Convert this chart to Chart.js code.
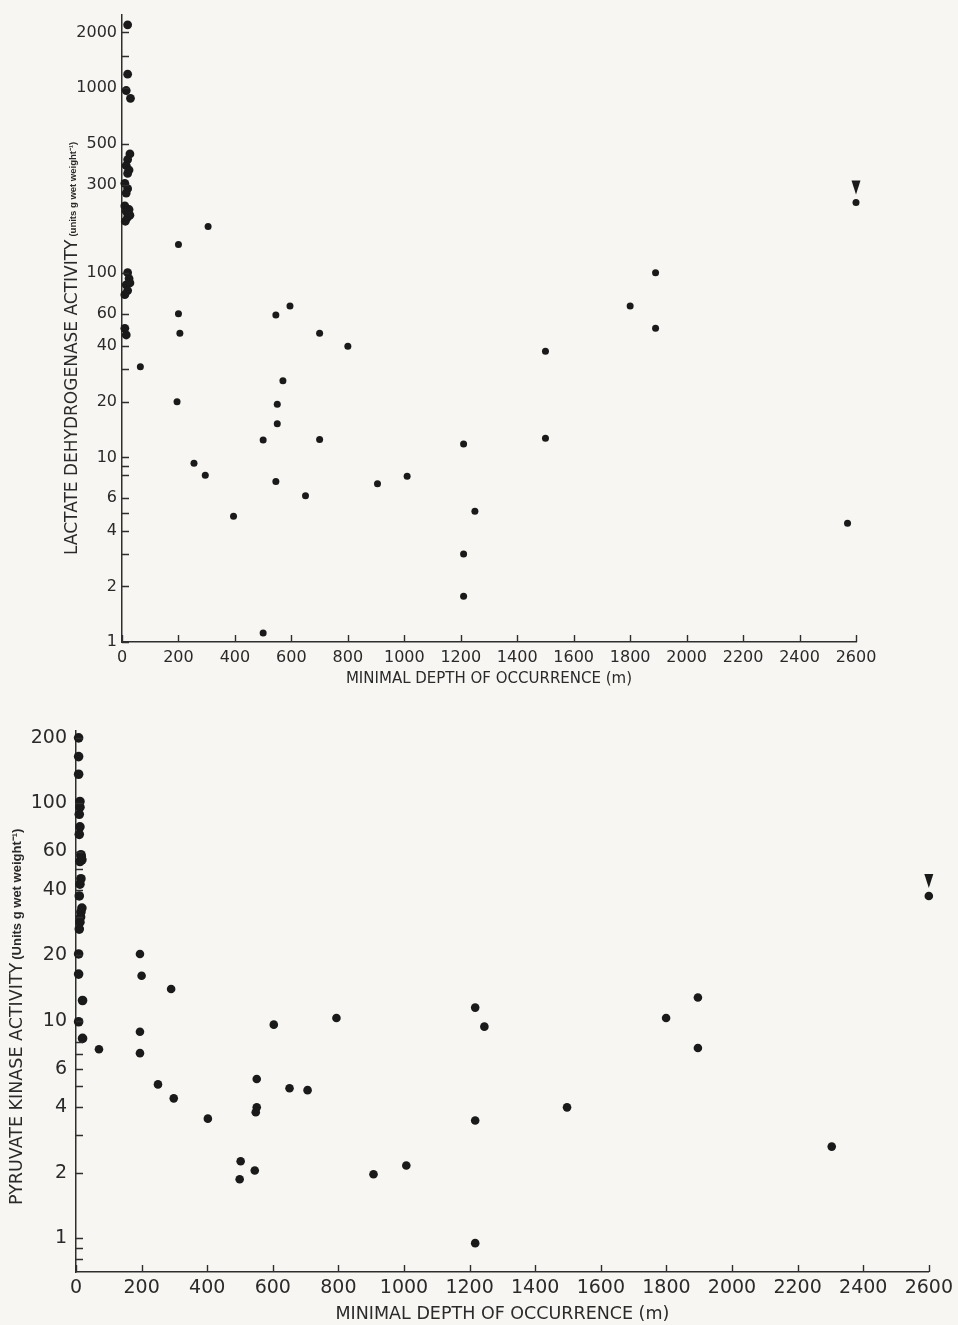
<!DOCTYPE html>
<html>
<head>
<meta charset="utf-8">
<title>Enzyme activity vs minimal depth of occurrence</title>
<script src="https://cdn.jsdelivr.net/npm/chart.js@4.4.1/dist/chart.umd.min.js"></script>
<style>
  html, body { margin: 0; padding: 0; background: #f7f6f3; }
  #wrap { position: relative; width: 958px; height: 1325px; }
  canvas { position: absolute; left: 0; }
  #ldh { top: 0; }
  #pk { top: 700px; }
</style>
</head>
<body>
<div id="wrap">
  <canvas id="ldh" width="958" height="700"></canvas>
  <canvas id="pk" width="958" height="625"></canvas>
</div>
<script>
// Lactate dehydrogenase: minimal depth of occurrence (m) and activity (units g wet weight^-1)
const ldhDepth = [
  20, 20, 15, 30, 28, 20, 15, 25, 20, 10, 20, 15, 10, 25, 15, 20, 28, 12,
  20, 25, 15, 20, 10, 28, 10, 15,
  2600, 305, 200, 1890, 1800, 595, 200, 545, 205, 700, 1890, 800, 1500,
  65, 570, 195, 550, 550, 500, 700, 1500, 1210, 255, 295, 1010, 545,
  905, 650, 1250, 395, 2570, 1210, 1210, 500
];
const ldhActivity = [
  2200, 1190, 970, 880, 440, 410, 380, 360, 345, 305, 285, 270, 230, 220, 215, 200, 205, 190,
  100, 93, 86, 80, 76, 88, 50, 46,
  240, 178, 142, 100, 66, 66, 60, 59, 47, 47, 50, 40, 37.5,
  31, 26, 20, 19.4, 15.2, 12.4, 12.5, 12.7, 11.8, 9.3, 8, 7.9, 7.4,
  7.2, 6.2, 5.1, 4.8, 4.4, 3.0, 1.77, 1.12
];

// Pyruvate kinase: minimal depth of occurrence (m) and activity (units g wet weight^-1)
const pkDepth = [
  8, 8, 8, 12, 12, 10, 12, 10, 15, 18, 12, 15, 12, 10, 18, 15, 12, 10,
  8, 8, 20, 8, 20, 16, 14,
  2600, 195, 200, 290, 1217, 1896, 1799, 794, 603, 1245, 195, 70, 1896,
  195, 551, 250, 651, 706, 298, 1497, 551, 548, 402, 1217, 2304, 502,
  1007, 545, 907, 499, 1217
];
const pkActivity = [
  200, 164, 136, 102, 96, 89, 78, 72, 58, 55, 54, 45, 42.5, 37.5, 33, 31.6, 28.4, 26.4,
  20.3, 16.4, 12.4, 9.9, 8.3, 57, 30,
  37.5, 20.3, 16.1, 14, 11.5, 12.8, 10.3, 10.3, 9.6, 9.4, 8.9, 7.4, 7.5,
  7.1, 5.4, 5.1, 4.9, 4.8, 4.4, 4.0, 4.0, 3.8, 3.55, 3.48, 2.64, 2.26,
  2.16, 2.05, 1.97, 1.87, 0.95
];

// Axis ticks (log y axes carry extra unlabelled marks)
const depthTicks = [0, 200, 400, 600, 800, 1000, 1200, 1400, 1600, 1800, 2000, 2200, 2400, 2600];
const ldhTickMarks = [1, 2, 3, 4, 5, 6, 8, 9, 10, 20, 30, 40, 60, 100, 300, 500, 1000, 1500, 2000];
const ldhTickLabels = [1, 2, 4, 6, 10, 20, 40, 60, 100, 300, 500, 1000, 2000];
const pkTickMarks = [0.8, 0.9, 1, 2, 3, 4, 5, 6, 7, 8, 10, 20, 30, 40, 50, 60, 100, 200];
const pkTickLabels = [1, 2, 4, 6, 10, 20, 40, 60, 100, 200];

const INK = '#1a1a1a';
const AXIS = '#2e2e2e';
const TEXT = '#2a2a2a';

// Tick marks pointing into the plotting area
const inwardTicks = {
  id: 'inwardTicks',
  afterDraw(chart, args, opts) {
    const { ctx, chartArea } = chart;
    const len = opts.length || 7;
    ctx.save();
    ctx.strokeStyle = AXIS;
    ctx.lineWidth = 1.4;
    ctx.beginPath();
    const xs = chart.scales.x, ys = chart.scales.y;
    xs.ticks.forEach(t => {
      const px = Math.round(xs.getPixelForValue(t.value)) + 0.5;
      ctx.moveTo(px, chartArea.bottom);
      ctx.lineTo(px, chartArea.bottom - len);
    });
    ys.ticks.forEach(t => {
      const py = Math.round(ys.getPixelForValue(t.value)) + 0.5;
      ctx.moveTo(chartArea.left, py);
      ctx.lineTo(chartArea.left + len, py);
    });
    ctx.stroke();
    ctx.restore();
  }
};

// Rotated y-axis title with a smaller unit suffix
const yTitle = {
  id: 'yTitle',
  afterDraw(chart, args, o) {
    const { ctx } = chart;
    ctx.save();
    ctx.translate(o.x, o.y);
    ctx.rotate(-Math.PI / 2);
    ctx.fillStyle = TEXT;
    ctx.textBaseline = 'middle';
    ctx.textAlign = 'left';
    ctx.font = o.mainFont;
    ctx.fillText(o.main, 0, 0);
    const w = ctx.measureText(o.main).width;
    ctx.font = o.subFont;
    ctx.fillText(o.sub, w + o.gap, o.subShift);
    ctx.restore();
  }
};

// Downward wedge above the deepest species' point
const wedge = {
  id: 'wedge',
  afterDatasetsDraw(chart, args, o) {
    const pt = chart.getDatasetMeta(0).data[o.index];
    if (!pt) return;
    const { ctx } = chart;
    ctx.save();
    ctx.fillStyle = INK;
    ctx.beginPath();
    ctx.moveTo(pt.x - o.half, pt.y - o.top);
    ctx.lineTo(pt.x + o.half, pt.y - o.top);
    ctx.lineTo(pt.x, pt.y - o.tip);
    ctx.closePath();
    ctx.fill();
    ctx.restore();
  }
};

function buildChart(canvasId, depth, activity, cfg) {
  const points = depth.map((d, i) => ({ x: d, y: activity[i] }));
  // points of shallow-living species sit on the axis and are drawn a little larger
  const radius = c => (c.raw && c.raw.x < 50 ? cfg.axisRadius : cfg.radius);
  return new Chart(document.getElementById(canvasId), {
    type: 'scatter',
    data: {
      datasets: [{
        data: points,
        backgroundColor: INK,
        borderColor: INK,
        borderWidth: 0,
        pointRadius: radius,
        pointHoverRadius: radius,
        clip: false
      }]
    },
    options: {
      responsive: false,
      animation: false,
      devicePixelRatio: 1,
      layout: { padding: cfg.padding },
      plugins: {
        legend: { display: false },
        tooltip: { enabled: false },
        inwardTicks: { length: 7 },
        yTitle: cfg.yTitle,
        wedge: { index: depth.indexOf(2600), half: 4.5, top: 22, tip: 8 }
      },
      scales: {
        x: {
          type: 'linear',
          min: 0, max: 2600,
          afterBuildTicks: s => { s.ticks = depthTicks.map(v => ({ value: v })); },
          afterFit: s => { s.height = cfg.xHeight; },
          grid: { display: false, drawTicks: false },
          border: { display: true, color: AXIS, width: 1.5 },
          ticks: {
            color: TEXT, font: { family: 'DejaVu Sans', size: cfg.xTickSize },
            padding: cfg.xTickPad, maxRotation: 0, autoSkip: false,
            callback: v => String(v)
          },
          title: {
            display: true, text: 'MINIMAL DEPTH OF OCCURRENCE (m)', color: TEXT,
            font: { family: 'DejaVu Sans', size: cfg.xTitleSize },
            padding: { top: cfg.xTitlePad, bottom: 0 }
          }
        },
        y: {
          type: 'logarithmic',
          min: cfg.yMin, max: cfg.yMax,
          afterBuildTicks: s => { s.ticks = cfg.marks.map(v => ({ value: v })); },
          afterFit: s => { s.width = cfg.yWidth; },
          grid: { display: false, drawTicks: false },
          border: { display: true, color: AXIS, width: 1.5 },
          ticks: {
            color: TEXT, font: { family: 'DejaVu Sans', size: cfg.yTickSize },
            padding: cfg.yTickPad, autoSkip: false,
            callback: v => cfg.labels.includes(v) ? String(v) : ''
          }
        }
      }
    },
    plugins: [inwardTicks, yTitle, wedge]
  });
}

buildChart('ldh', ldhDepth, ldhActivity, {
  radius: 3.5, axisRadius: 4.4,
  padding: { top: 11, right: 102, left: 0, bottom: 12 },
  xHeight: 46, yWidth: 122,
  yMin: 1, yMax: 2500,
  marks: ldhTickMarks, labels: ldhTickLabels,
  xTickSize: 16, yTickSize: 16, xTickPad: 6, yTickPad: 5,
  xTitleSize: 15, xTitlePad: 2,
  yTitle: {
    x: 73, y: 555, gap: 3, subShift: 0,
    main: 'LACTATE DEHYDROGENASE ACTIVITY',
    sub: '(units g wet weight\u207B\u00B9)',
    mainFont: '17px "DejaVu Sans"',
    subFont: 'bold 9.5px "Liberation Sans Narrow", "Liberation Sans"'
  }
});

buildChart('pk', pkDepth, pkActivity, {
  radius: 4.3, axisRadius: 4.8,
  padding: { top: 31, right: 28, left: 0, bottom: 0 },
  xHeight: 53, yWidth: 76,
  yMin: 0.71, yMax: 215,
  marks: pkTickMarks, labels: pkTickLabels,
  xTickSize: 19, yTickSize: 19, xTickPad: 5, yTickPad: 9,
  xTitleSize: 17.5, xTitlePad: 0,
  yTitle: {
    x: 17, y: 1205 - 700, gap: 3, subShift: 0,
    main: 'PYRUVATE KINASE ACTIVITY',
    sub: '(Units g wet weight\u207B\u00B9)',
    mainFont: '17.5px "DejaVu Sans"',
    subFont: 'bold 13px "Liberation Sans Narrow", "Liberation Sans"'
  }
});
</script>
</body>
</html>
